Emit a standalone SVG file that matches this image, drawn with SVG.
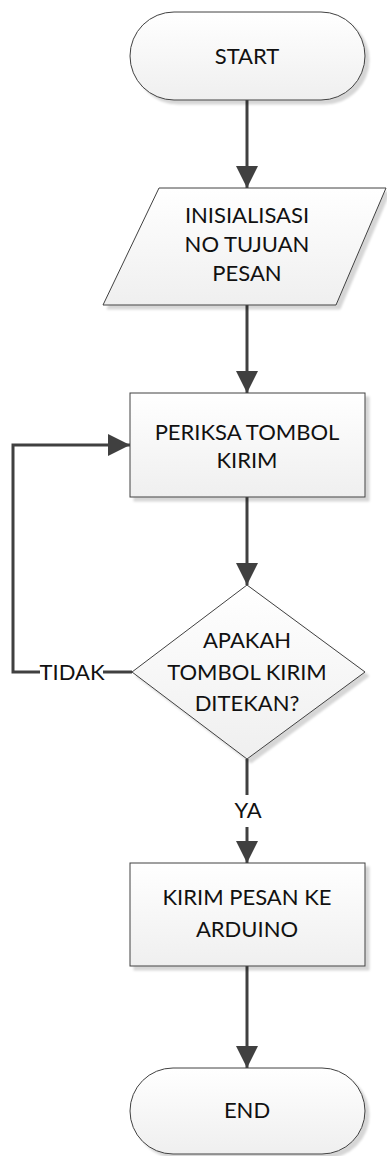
<svg xmlns="http://www.w3.org/2000/svg" width="387" height="1156" viewBox="0 0 387 1156">
  <style>
    .shape { fill: url(#fillGrad); stroke: #404040; stroke-width: 1; filter: url(#shadow); }
    .label { font-family: "Lato", "Open Sans", "Liberation Sans", sans-serif; font-size: 22px; fill: #111111; text-anchor: middle; }
    .conn { fill: none; stroke: #404040; stroke-width: 3; }
  </style>
  <defs>
    <linearGradient id="fillGrad" x1="0" y1="0" x2="0" y2="1">
      <stop offset="0" stop-color="#ffffff"/>
      <stop offset="1" stop-color="#efefef"/>
    </linearGradient>
    <filter id="shadow" x="-10%" y="-10%" width="130%" height="130%">
      <feDropShadow dx="4" dy="4" stdDeviation="1.2" flood-color="#000000" flood-opacity="0.16"/>
    </filter>
    <marker id="arrow" markerUnits="userSpaceOnUse" viewBox="0 0 22 22" refX="22" refY="11" markerWidth="22" markerHeight="22" orient="auto">
      <path d="M0,0 L22,11 L0,22 z" fill="#404040"/>
    </marker>
  </defs>

  <!-- connectors -->
  <g id="connectors">
    <path class="conn" d="M247,100 V188" marker-end="url(#arrow)"/>
    <path class="conn" d="M247,305 V393" marker-end="url(#arrow)"/>
    <path class="conn" d="M247,497 V585" marker-end="url(#arrow)"/>
    <path class="conn" d="M247,759 V795"/>
    <path class="conn" d="M247,827 V863" marker-end="url(#arrow)"/>
    <text class="label" x="248" y="818">YA</text>
    <path class="conn" d="M247,966 V1068" marker-end="url(#arrow)"/>
    <path class="conn" d="M132,672 H103"/>
    <path class="conn" d="M40,672 H13 V445 H130" marker-end="url(#arrow)"/>
    <text class="label" x="72" y="680">TIDAK</text>
  </g>

  <g id="start">
    <rect class="shape" x="130" y="12" width="235" height="88" rx="44" ry="44"/>
    <text class="label" x="247" y="64">START</text>
  </g>

  <g id="init">
    <polygon class="shape" points="159,188 386,188 336,305 103,305"/>
    <text class="label" x="247" y="223">INISIALISASI</text>
    <text class="label" x="247" y="252">NO TUJUAN</text>
    <text class="label" x="247" y="281">PESAN</text>
  </g>

  <g id="check">
    <rect class="shape" x="130" y="393" width="235" height="104"/>
    <text class="label" x="247" y="440">PERIKSA TOMBOL</text>
    <text class="label" x="247" y="468">KIRIM</text>
  </g>

  <g id="decision">
    <polygon class="shape" points="247,585 365,672 247,759 132,672"/>
    <text class="label" x="247" y="648">APAKAH</text>
    <text class="label" x="247" y="680">TOMBOL KIRIM</text>
    <text class="label" x="247" y="711">DITEKAN?</text>
  </g>

  <g id="send">
    <rect class="shape" x="130" y="863" width="235" height="103"/>
    <text class="label" x="247" y="905">KIRIM PESAN KE</text>
    <text class="label" x="247" y="937">ARDUINO</text>
  </g>

  <g id="end">
    <rect class="shape" x="130" y="1068" width="235" height="86" rx="43" ry="43"/>
    <text class="label" x="247" y="1118">END</text>
  </g>
</svg>
